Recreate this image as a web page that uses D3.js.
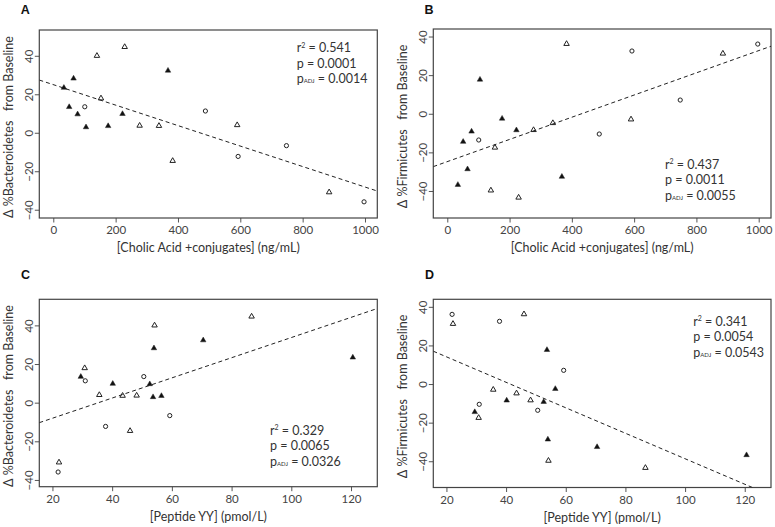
<!DOCTYPE html>
<html>
<head>
<meta charset="utf-8">
<script src="https://cdn.jsdelivr.net/npm/d3@7"></script>
<style>
  html, body { margin: 0; padding: 0; background: #fff; }
  svg { display: block; }
  text { font-family: Lato, "Open Sans", sans-serif; fill: #333; }
</style>
</head>
<body>
<svg id="chart" width="775" height="527"></svg>
<script>
// ---------------- data (one entry per subject) ----------------
const subjectGroup = ["filled","filled","filled","circle","filled","filled","open","open","open","filled","filled","filled","open","open","open","circle","open","circle","circle","open","circle"];
const cholicAcid = [34, 65, 51, 101, 78, 105, 140, 229, 153, 176, 222, 368, 277, 339, 383, 488, 590, 593, 748, 885, 997];
const peptideYY = [120.6, 54.0, 29.5, 50.6, 52.6, 53.7, 54.2, 86.7, 30.8, 56.5, 40.2, 70.5, 48.2, 43.5, 46.0, 31.0, 35.7, 37.8, 59.3, 22.2, 21.9];
const deltaBacteroidetes = [23.4, 28.2, 13.4, 13.5, 9.6, 2.9, 40.0, 44.6, 17.9, 3.5, 9.8, 32.3, 3.7, 3.6, -14.6, 11.3, 4.0, -12.3, -6.7, -30.9, -35.9];
const deltaFirmicutes = [-36.8, -28.7, -14.5, -13.6, -9.2, 17.7, -39.7, -43.4, -17.5, -2.5, -8.5, -32.6, -8.4, -4.8, 36.2, -10.5, -2.9, 32.5, 7.1, 31.2, 36.1];

// tick labels
const xTicksCholic = [0, 200, 400, 600, 800, 1000];
const xTicksPYY = [20, 40, 60, 80, 100, 120];
const yTicks = [-40, -20, 0, 20, 40];

// regression fits (intercept, slope)
const fitIntercepts = [25.0, -24.8, -18.5, 27.3];
const fitSlopes = [-0.0532, 0.0575, 0.522, -0.66];

// statistics text
const panelLetters = ["A", "B", "C", "D"];
const r2Values = ["0.541", "0.437", "0.329", "0.341"];
const pValues = ["0.0001", "0.0011", "0.0065", "0.0054"];
const pAdjValues = ["0.0014", "0.0055", "0.0326", "0.0543"];
const xTitles = ["[Cholic Acid +conjugates] (ng/mL)", "[Cholic Acid +conjugates] (ng/mL)", "[Peptide YY] (pmol/L)", "[Peptide YY] (pmol/L)"];
const yTitles = ["Δ %Bacteroidetes   from Baseline", "Δ %Firmicutes   from Baseline", "Δ %Bacteroidetes   from Baseline", "Δ %Firmicutes   from Baseline"];

// ---------------- layout ----------------
const panels = [
  { box: [39.3, 377.3, 30, 218],      xDom: [-44.9, 1039.5], yDom: [-44.3, 53.4], xs: cholicAcid, ys: deltaBacteroidetes, xt: xTicksCholic,
    letter: [25.3, 14], stats: [296.7, 52] },
  { box: [433.3, 771, 29, 218],       xDom: [-44.9, 1039.5], yDom: [-54.0, 43.9], xs: cholicAcid, ys: deltaFirmicutes, xt: xTicksCholic,
    letter: [429, 14], stats: [665, 168.5] },
  { box: [39.3, 377.3, 299.3, 486.7], xDom: [15.6, 128.8],   yDom: [-43.5, 53.5], xs: peptideYY, ys: deltaBacteroidetes, xt: xTicksPYY,
    letter: [25.5, 279], stats: [270, 434.5] },
  { box: [433.3, 771, 299.3, 487.5],  xDom: [15.6, 128.8],   yDom: [-53.6, 43.9], xs: peptideYY, ys: deltaFirmicutes, xt: xTicksPYY,
    letter: [429.5, 279.3], stats: [693.3, 325.5] }
];

const svg = d3.select("#chart");
const triPath = d3.symbol().type(d3.symbolTriangle).size(13)();

panels.forEach((P, i) => {
  const [x0, x1, y0, y1] = P.box;
  const x = d3.scaleLinear().domain(P.xDom).range([x0, x1]);
  const y = d3.scaleLinear().domain(P.yDom).range([y1, y0]);
  const g = svg.append("g");

  const cid = "clip" + i;
  svg.append("clipPath").attr("id", cid).append("rect")
    .attr("x", x0).attr("y", y0).attr("width", x1 - x0).attr("height", y1 - y0);

  // x axis
  const xa = g.append("g").attr("transform", `translate(0,${y1})`)
    .call(d3.axisBottom(x).tickValues(P.xt).tickSize(4.5).tickSizeOuter(0).tickFormat(d3.format("d")));
  xa.select(".domain").remove();
  xa.selectAll("line").attr("stroke", "#555");
  xa.selectAll("text").attr("y", 16).attr("dy", 0).style("font-size", "11.5px").style("fill", "#444");

  // y axis
  const ya = g.append("g").attr("transform", `translate(${x0},0)`)
    .call(d3.axisLeft(y).tickValues(yTicks).tickSize(4.5).tickSizeOuter(0).tickFormat(d => d < 0 ? "\u2212" + Math.abs(d) : d));
  ya.select(".domain").remove();
  ya.selectAll("line").attr("stroke", "#555");
  ya.selectAll("text").attr("transform", "rotate(-90)").attr("x", 0).attr("y", -6.5).attr("dy", 0)
    .attr("text-anchor", "middle").style("font-size", "11.5px").style("fill", "#444");

  // box
  g.append("rect").attr("x", x0).attr("y", y0).attr("width", x1 - x0).attr("height", y1 - y0)
    .attr("fill", "none").attr("stroke", "#444").attr("stroke-width", 1.2);

  // fit line
  const fx = P.xDom;
  g.append("line").attr("clip-path", `url(#${cid})`)
    .attr("x1", x(fx[0])).attr("y1", y(fitIntercepts[i] + fitSlopes[i] * fx[0]))
    .attr("x2", x(fx[1])).attr("y2", y(fitIntercepts[i] + fitSlopes[i] * fx[1]))
    .attr("stroke", "#222").attr("stroke-width", 1).attr("stroke-dasharray", "4,3");

  // points
  const pts = P.xs.map((v, k) => ({ x: v, y: P.ys[k], grp: subjectGroup[k] }));
  pts.forEach(d => {
    if (d.grp === "circle") {
      g.append("circle").attr("cx", x(d.x)).attr("cy", y(d.y)).attr("r", 2.1)
        .attr("fill", "none").attr("stroke", "#222").attr("stroke-width", 1);
    } else {
      g.append("path").attr("d", triPath)
        .attr("transform", `translate(${x(d.x)},${y(d.y)})`)
        .attr("fill", d.grp === "filled" ? "#111" : "none")
        .attr("stroke", "#222").attr("stroke-width", d.grp === "filled" ? 0.5 : 1);
    }
  });

  // axis titles
  g.append("text").attr("x", (x0 + x1) / 2).attr("y", y1 + 34).attr("text-anchor", "middle")
    .style("font-size", "12.5px").text(xTitles[i]);
  g.append("text").attr("transform", `translate(${x0 - 26},${(y0 + y1) / 2 + 3}) rotate(-90)`)
    .attr("text-anchor", "middle").style("font-size", "12.5px").style("white-space", "pre")
    .text(yTitles[i]);

  // panel letter
  svg.append("text").attr("x", P.letter[0]).attr("y", P.letter[1]).attr("text-anchor", "middle")
    .style("font-family", "'Liberation Sans', Arial, sans-serif").style("font-weight", "bold")
    .style("font-size", "12.5px").style("fill", "#111").text(panelLetters[i]);

  // stats
  const [sx, sy] = P.stats;
  const t1 = g.append("text").attr("x", sx).attr("y", sy).style("font-size", "12.5px");
  t1.append("tspan").text("r");
  t1.append("tspan").attr("dy", -4.5).style("font-size", "7px").text("2");
  t1.append("tspan").attr("dy", 4.5).text(" = " + r2Values[i]);
  g.append("text").attr("x", sx).attr("y", sy + 15.5).style("font-size", "12.5px").text("p = " + pValues[i]);
  const t3 = g.append("text").attr("x", sx).attr("y", sy + 31).style("font-size", "12.5px");
  t3.append("tspan").text("p");
  t3.append("tspan").style("font-size", "6px").text("ADJ");
  t3.append("tspan").text(" = " + pAdjValues[i]);
});
</script>
</body>
</html>
